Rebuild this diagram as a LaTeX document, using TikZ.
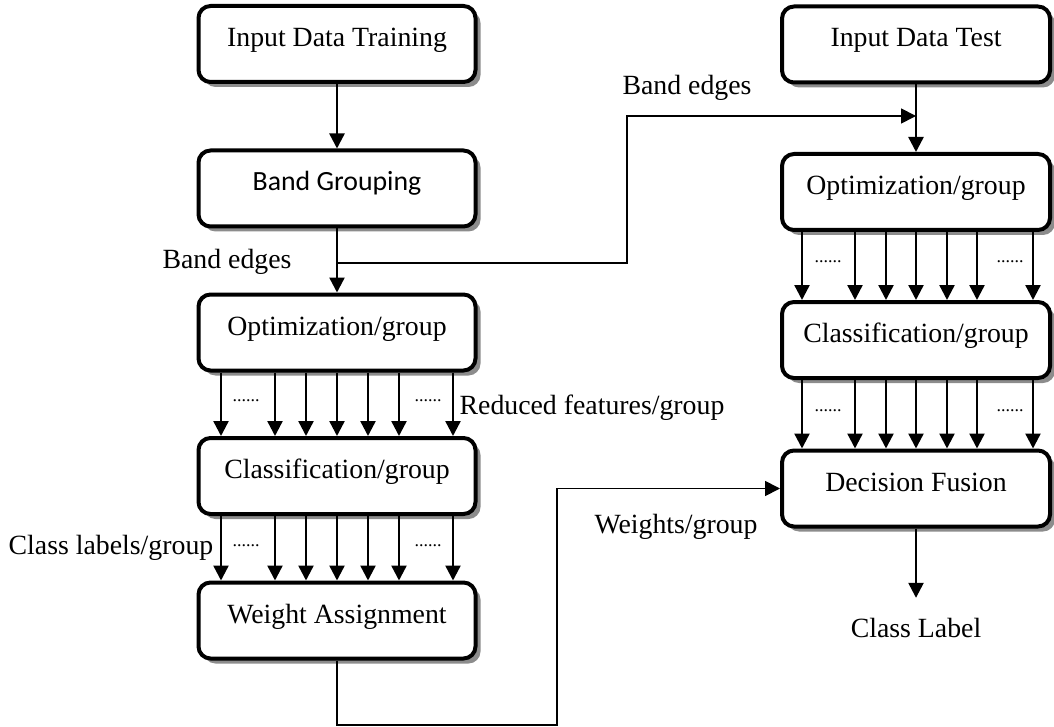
\documentclass[tikz,border=0pt]{standalone}
\usepackage{fontspec}
\setmainfont{Liberation Serif}
\newfontfamily\calfont{Carlito}
\usetikzlibrary{arrows.meta,shadows,calc}

\begin{document}
\begin{tikzpicture}[x=0.5pt,y=-0.5pt,
  font=\fontsize{13.9}{16}\selectfont,
  stage/.style={draw, line width=2pt, rounded corners=6pt, fill=white,
    minimum width=138.5pt, minimum height=38pt, inner sep=0pt,
    text height=9.5pt, text depth=7pt,
    drop shadow={shadow xshift=2.5pt, shadow yshift=-2.5pt, opacity=1, fill=black!45}},
  tip/.style={-{Triangle[width=7.5pt,length=7.5pt]}},
  flow/.style={line width=1.2pt, tip},
  link/.style={line width=0.9pt, tip},
  note/.style={inner sep=0pt},
  dots/.style={font=\fontsize{9}{10}\selectfont, inner sep=0pt, anchor=base}]

\useasboundingbox (0,0) rectangle (1054,727);

% training branch
\node[stage] (train) at (337,44)    {Input Data Training};
\node[stage] (grp)   at (337,188.5) {\calfont Band Grouping};
\node[stage] (lopt)  at (337,332.5) {Optimization/group};
\node[stage] (lcls)  at (337,476)   {Classification/group};
\node[stage] (wgt)   at (337,620.5) {Weight Assignment};

% test branch
\node[stage, minimum width=134pt] (test)  at (916,44.5) {Input Data Test};
\node[stage, minimum width=134pt] (ropt)  at (916,192)  {Optimization/group};
\node[stage, minimum width=134pt] (rcls)  at (916,340)  {Classification/group};
\node[stage, minimum width=134pt] (fuse)  at (916,488.5){Decision Fusion};
\node[note] (out) at (916,628) {Class Label};

% labels
\node[note] (bandL) at (227,262) {Band edges};
\node[note] (bandR) at (687,88)  {Band edges};
\node[note] (redf)  at (592,408) {Reduced features/group};
\node[note] (clsl)  at (111,548) {Class labels/group};
\node[note] (wlab)  at (676,527) {Weights/group};

% single arrows
\draw[flow] (train.south) -- (grp.north);
\draw[flow] (grp.south) -- (lopt.north);
\draw[flow] (test.south) -- (ropt.north);
\draw[flow, shorten >=10pt] (fuse.south) -- (out.north);

% band edges handed to the test branch
\coordinate (split) at (337,263);
\coordinate (bendA) at (627,116);
\draw[link] (split) -| (bendA) -- (test.south |- bendA);

% weights handed to decision fusion
\coordinate (wbot) at (557,725);
\draw[link] (wgt.south) |- (wbot) |- (fuse.west);

% per-group arrow bundles
\foreach \d in {-116,-62,-31,0,31,62,116} {
  \draw[flow] ($(lopt.south)+(\d,0)$) -- ($(lcls.north)+(\d,0)$);
  \draw[flow] ($(lcls.south)+(\d,0)$) -- ($(wgt.north)+(\d,0)$);
}
\foreach \d in {-114,-61,-30,0,31,61,117} {
  \draw[flow] ($(ropt.south)+(\d,0)$) -- ($(rcls.north)+(\d,0)$);
  \draw[flow] ($(rcls.south)+(\d,0)$) -- ($(fuse.north)+(\d,0)$);
}

% ellipses between bundle arrows
\node[dots] (d1) at (246,401) {......};
\node[dots] (d2) at (428,401) {......};
\node[dots] (d3) at (246,546) {......};
\node[dots] (d4) at (428,546) {......};
\node[dots] (d5) at (828,263) {......};
\node[dots] (d6) at (1010,263) {......};
\node[dots] (d7) at (828,411) {......};
\node[dots] (d8) at (1010,411) {......};
\end{tikzpicture}
\end{document}
